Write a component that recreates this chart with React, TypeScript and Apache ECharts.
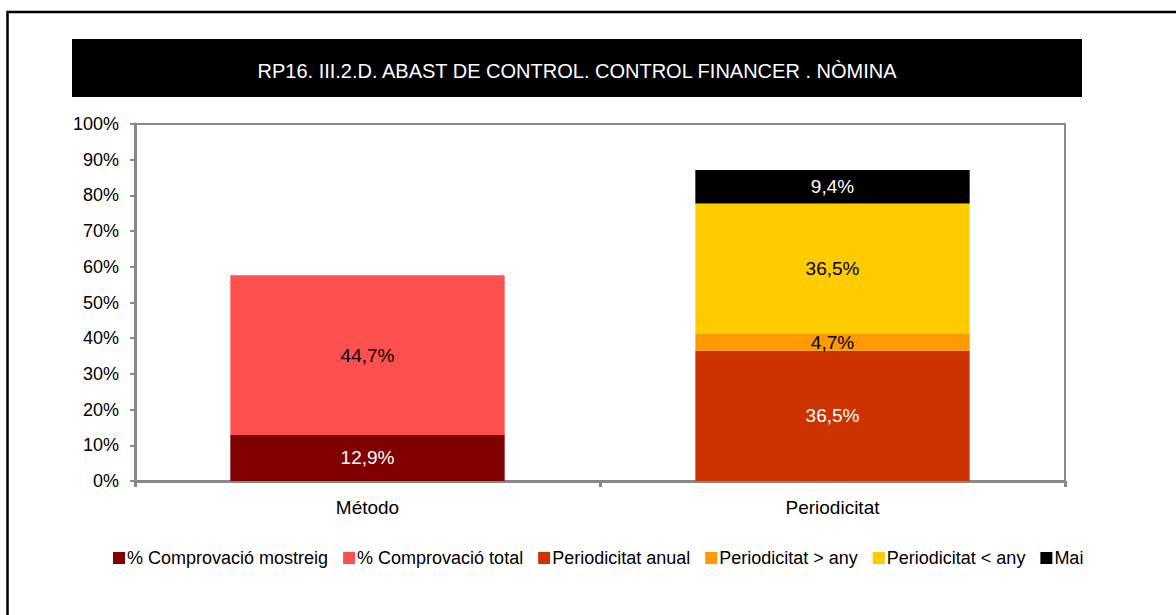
import React, { useEffect, useRef } from "react";
import * as echarts from "echarts";

const categories = ["Método", "Periodicitat"];
const seriesNames = [
  "% Comprovació mostreig",
  "% Comprovació total",
  "Periodicitat anual",
  "Periodicitat > any",
  "Periodicitat < any",
  "Mai",
];
const mostreig = [12.9, null];
const total = [44.7, null];
const anual = [null, 36.5];
const mesAny = [null, 4.7];
const menysAny = [null, 36.5];
const mai = [null, 9.4];
const colors = ["#800000", "#FF5050", "#CC3300", "#FF9900", "#FFCC00", "#000000"];
const labelColors = ["#ffffff", "#000000", "#ffffff", "#000000", "#000000", "#ffffff"];
const titleText = "RP16. III.2.D. ABAST DE CONTROL. CONTROL FINANCER . NÒMINA";

const FONT = "'Liberation Sans Narrow', 'Arial Narrow', 'Liberation Sans', Arial, sans-serif";

export default function App() {
  const ref = useRef<HTMLDivElement>(null);
  useEffect(() => {
    if (!ref.current) return;
    const chart = echarts.init(ref.current, null, { renderer: "svg" });
    const data = [mostreig, total, anual, mesAny, menysAny, mai];
    chart.setOption({
      animation: false,
      textStyle: { fontFamily: FONT },
      graphic: [
        {
          type: "rect",
          shape: { x: 7.5, y: 12, width: 1300, height: 800 },
          style: { fill: "none", stroke: "#000", lineWidth: 2.5 },
          silent: true,
        },
        {
          type: "rect",
          shape: { x: 72, y: 39, width: 1010, height: 58 },
          style: { fill: "#000" },
          silent: true,
        },
        {
          type: "text",
          x: 577,
          y: 71,
          style: {
            text: titleText,
            fill: "#fff",
            font: `20px ${FONT}`,
            align: "center",
            verticalAlign: "middle",
          },
          silent: true,
        },
      ],
      legend: {
        data: seriesNames,
        left: 108,
        top: 544,
        icon: "rect",
        itemWidth: 12,
        itemHeight: 12,
        itemGap: 15,
        textStyle: { fontFamily: FONT, fontSize: 18, color: "#000", padding: [0, 0, 0, -3] },
      },
      grid: {
        left: 135,
        top: 124,
        width: 930,
        height: 357,
        show: true,
        borderColor: "#888",
        borderWidth: 2,
        containLabel: false,
      },
      xAxis: {
        type: "category",
        data: categories,
        axisLine: { lineStyle: { color: "#888", width: 3 } },
        axisTick: { show: true, length: 6, lineStyle: { color: "#888", width: 3 } },
        axisLabel: { color: "#000", fontSize: 19, margin: 17, fontFamily: FONT },
      },
      yAxis: {
        type: "value",
        min: 0,
        max: 100,
        interval: 10,
        axisLine: { show: true, lineStyle: { color: "#888", width: 3 } },
        axisTick: { show: true, length: 5, lineStyle: { color: "#888", width: 2 } },
        splitLine: { show: false },
        axisLabel: { color: "#000", fontSize: 18, margin: 16, formatter: "{value}%", fontFamily: FONT },
      },
      series: seriesNames.map((name, i) => ({
        name,
        type: "bar",
        stack: "total",
        barWidth: "59%",
        data: data[i],
        itemStyle: { color: colors[i] },
        label: {
          show: true,
          position: "inside",
          color: labelColors[i],
          fontSize: 19,
          fontFamily: FONT,
          formatter: (p: any) => (p.value == null ? "" : String(p.value).replace(".", ",") + "%"),
        },
      })),
    });
    return () => chart.dispose();
  }, []);
  return (
    <div
      ref={ref}
      style={{ position: "absolute", left: 0, top: 0, width: 1176, height: 615, background: "#fff" }}
    />
  );
}
